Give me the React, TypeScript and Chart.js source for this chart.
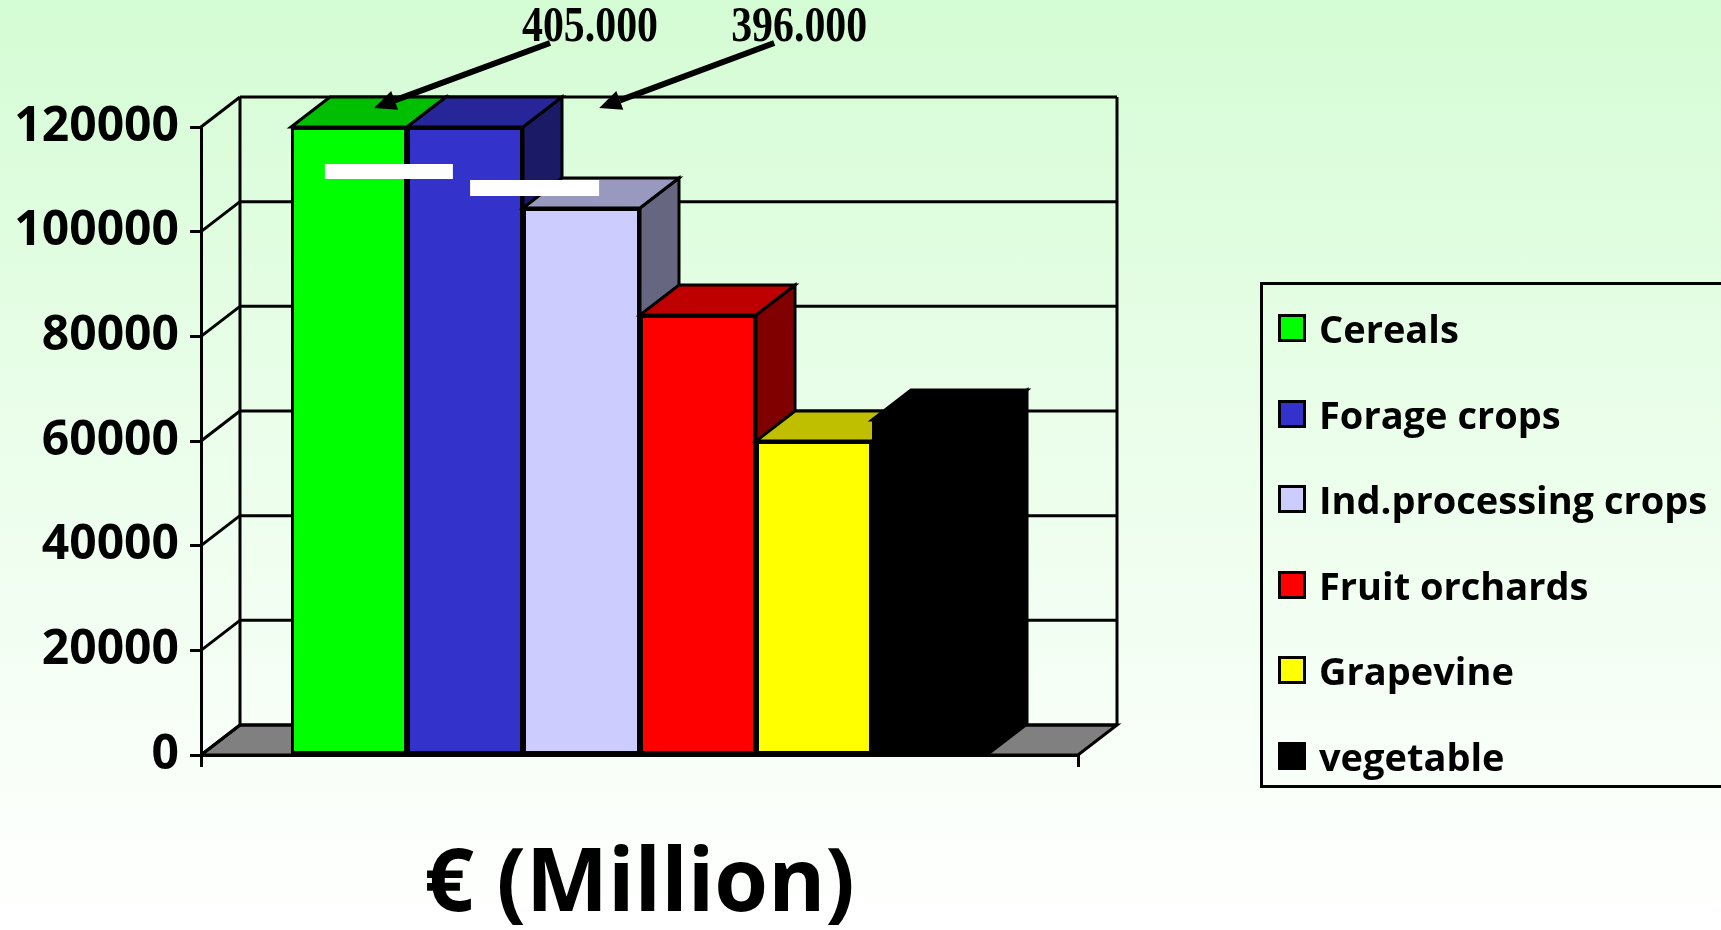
import React, { useEffect, useRef } from 'react';
import { Chart, registerables } from 'chart.js';

Chart.register(...registerables);

// ---- data ----
const categories = ['Cereals', 'Forage crops', 'Ind.processing crops', 'Fruit orchards', 'Grapevine', 'vegetable'];
const values = [405000, 396000, 104500, 84000, 60000, 64000];
const colors = ['#00ff00', '#3333cc', '#ccccff', '#ff0000', '#ffff00', '#000000'];
const yTickLabels = ['0', '20000', '40000', '60000', '80000', '100000', '120000'];
const breakLabels = ['405.000', '396.000'];
const axisTitle = '€ (Million)';
const yMax = 120000;
const yStep = 20000;

// ---- style constants ----
const W = 1721;
const H = 930;
const DX = 39;
const DY = 30;
const LINE = 3;
const COMIC = "'Comic Sans MS', 'Open Sans', sans-serif";

function shade(hex: string, f: number): string {
  const n = parseInt(hex.slice(1), 16);
  const r = Math.round(((n >> 16) & 255) * f);
  const g = Math.round(((n >> 8) & 255) * f);
  const b = Math.round((n & 255) * f);
  return `rgb(${r},${g},${b})`;
}

function poly(ctx: CanvasRenderingContext2D, pts: number[][], fill: string | null) {
  ctx.beginPath();
  ctx.moveTo(pts[0][0], pts[0][1]);
  for (let i = 1; i < pts.length; i++) ctx.lineTo(pts[i][0], pts[i][1]);
  ctx.closePath();
  if (fill) {
    ctx.fillStyle = fill;
    ctx.fill();
  }
  ctx.strokeStyle = '#000';
  ctx.lineWidth = LINE;
  ctx.stroke();
}

function line(ctx: CanvasRenderingContext2D, x1: number, y1: number, x2: number, y2: number) {
  ctx.beginPath();
  ctx.moveTo(x1, y1);
  ctx.lineTo(x2, y2);
  ctx.stroke();
}

function arrow(ctx: CanvasRenderingContext2D, x1: number, y1: number, x2: number, y2: number) {
  const ang = Math.atan2(y2 - y1, x2 - x1);
  const headLen = 22;
  const headW = 10;
  const bx = x2 - headLen * Math.cos(ang);
  const by = y2 - headLen * Math.sin(ang);
  ctx.strokeStyle = '#000';
  ctx.lineWidth = 6;
  ctx.lineCap = 'butt';
  line(ctx, x1, y1, bx, by);
  ctx.beginPath();
  ctx.moveTo(x2, y2);
  ctx.lineTo(bx + headW * Math.sin(ang), by - headW * Math.cos(ang));
  ctx.lineTo(bx - headW * Math.sin(ang), by + headW * Math.cos(ang));
  ctx.closePath();
  ctx.fillStyle = '#000';
  ctx.fill();
}

const box3d = {
  id: 'box3d',
  beforeDraw(chart: any) {
    const { ctx, chartArea: ca } = chart;
    const y = chart.scales.y;
    ctx.save();
    ctx.lineJoin = 'miter';
    // floor
    poly(ctx, [[ca.left, ca.bottom], [ca.right, ca.bottom], [ca.right + DX, ca.bottom - DY], [ca.left + DX, ca.bottom - DY]], '#808080');
    ctx.strokeStyle = '#000';
    ctx.lineWidth = LINE;
    // side wall diagonals + back wall grid lines
    y.ticks.forEach((t: any) => {
      const py = y.getPixelForValue(t.value);
      line(ctx, ca.left, py, ca.left + DX, py - DY);
      line(ctx, ca.left + DX, py - DY, ca.right + DX, py - DY);
    });
    // back wall verticals
    line(ctx, ca.left + DX, ca.top - DY, ca.left + DX, ca.bottom - DY);
    line(ctx, ca.right + DX, ca.top - DY, ca.right + DX, ca.bottom - DY);
    ctx.restore();
  },
  beforeDatasetsDraw(chart: any) {
    const { ctx, chartArea: ca } = chart;
    ctx.save();
    ctx.lineJoin = 'miter';
    chart.data.datasets.forEach((ds: any, i: number) => {
      const meta = chart.getDatasetMeta(i);
      if (!meta.visible) return;
      meta.data.forEach((el: any) => {
        const { x, y, base, width } = el.getProps(['x', 'y', 'base', 'width'], true);
        const left = Math.round(x - width / 2);
        const right = Math.round(x + width / 2);
        const top = Math.round(Math.max(y, ca.top));
        const bottom = Math.round(base);
        const color = ds.backgroundColor as string;
        // front face via the element itself (clamped to the axis maximum, pixel aligned)
        const saved = { x: el.x, y: el.y, width: el.width, base: el.base };
        el.x = (left + right) / 2;
        el.width = right - left;
        el.y = top;
        el.base = bottom;
        el.draw(ctx, ca);
        Object.assign(el, saved);
        // right side face
        poly(ctx, [[right, top], [right + DX, top - DY], [right + DX, bottom - DY], [right, bottom]], shade(color, 0.5));
        // top face
        poly(ctx, [[left, top], [right, top], [right + DX, top - DY], [left + DX, top - DY]], shade(color, 0.75));
      });
    });
    ctx.restore();
    return false;
  },
  afterDraw(chart: any) {
    const { ctx, chartArea: ca } = chart;
    const e0 = chart.getDatasetMeta(0).data[0];
    const e1 = chart.getDatasetMeta(1).data[0];
    if (!e0 || !e1) return;
    const l0 = e0.x - e0.width / 2;
    const l1 = e1.x - e1.width / 2;
    ctx.save();
    // axis-break marks
    ctx.fillStyle = '#ffffff';
    ctx.fillRect(l0 + 34, ca.top + 37, 128, 15);
    ctx.fillRect(l1 + 63, ca.top + 53, 129, 16);
    // labels for the off-scale values
    ctx.fillStyle = '#000';
    ctx.font = "bold 46px 'Liberation Serif', 'Times New Roman', serif";
    ctx.textAlign = 'center';
    ctx.textBaseline = 'middle';
    const labelPos = [e0.x + 241, e1.x + 334];
    breakLabels.forEach((t, i) => {
      ctx.save();
      ctx.translate(labelPos[i], ca.top - 99);
      ctx.scale(0.91, 1.1);
      ctx.fillText(t, 0, 0);
      ctx.restore();
    });
    // arrows
    arrow(ctx, e0.x + 201, ca.top - 84, e0.x + 25, ca.top - 19);
    arrow(ctx, e1.x + 309, ca.top - 84, e1.x + 134, ca.top - 19);
    ctx.restore();
  },
};

export default function App() {
  const ref = useRef<HTMLCanvasElement>(null);

  useEffect(() => {
    if (!ref.current) return;
    const chart = new Chart(ref.current, {
      type: 'bar',
      data: {
        labels: [''],
        datasets: categories.map((c, i) => ({
          label: c,
          data: [values[i]],
          backgroundColor: colors[i],
          borderColor: '#000000',
          borderWidth: LINE,
          borderSkipped: false,
          categoryPercentage: 0.795,
          barPercentage: 1,
        })),
      },
      options: {
        animation: false,
        responsive: false,
        devicePixelRatio: 1,
        events: [],
        layout: { padding: { left: 0, right: W - 1078, top: 127, bottom: 0 } },
        plugins: {
          legend: { display: false },
          tooltip: { enabled: false },
        },
        scales: {
          x: {
            grid: {
              display: true,
              drawOnChartArea: false,
              drawTicks: true,
              tickLength: 12,
              color: '#000',
              lineWidth: LINE,
              offset: true,
            },
            border: { display: true, color: '#000', width: LINE },
            ticks: { display: false },
            title: {
              display: true,
              text: axisTitle,
              color: '#000',
              font: { family: COMIC, size: 87, weight: 'bold', lineHeight: 1.0 },
              padding: { top: 76, bottom: 0 },
            },
          },
          y: {
            min: 0,
            max: yMax,
            afterFit: (s: any) => {
              s.width = 201;
            },
            ticks: {
              stepSize: yStep,
              color: '#000',
              padding: 11,
              font: { family: COMIC, size: 48, weight: 'bold' },
              callback: (_v: any, i: number) => yTickLabels[i],
            },
            grid: {
              display: true,
              drawOnChartArea: false,
              drawTicks: true,
              tickLength: 11,
              color: '#000',
              lineWidth: LINE,
            },
            border: { display: true, color: '#000', width: LINE },
          },
        },
      },
      plugins: [box3d],
    } as any);
    return () => chart.destroy();
  }, []);

  return (
    <div
      style={{
        position: 'fixed',
        left: 0,
        top: 0,
        width: W,
        height: H,
        overflow: 'hidden',
        background: 'linear-gradient(to bottom, #d4fcd4 0%, #ecfeec 50%, #ffffff 100%)',
      }}
    >
      <canvas ref={ref} width={W} height={H} style={{ position: 'absolute', left: 0, top: 0, width: W, height: H }} />
      <div
        style={{
          position: 'absolute',
          left: 1260,
          top: 282,
          width: 520,
          height: 506,
          border: '3px solid #000',
          boxSizing: 'border-box',
        }}
      >
        {categories.map((c, i) => (
          <div
            key={c}
            style={{
              position: 'absolute',
              left: 15,
              top: 43 + i * 85.6 - 25,
              height: 50,
              display: 'flex',
              alignItems: 'center',
              whiteSpace: 'nowrap',
            }}
          >
            <span
              style={{
                display: 'inline-block',
                width: 28,
                height: 28,
                boxSizing: 'border-box',
                border: '3px solid #000',
                background: colors[i],
                marginRight: 13,
              }}
            />
            <span style={{ fontFamily: COMIC, fontWeight: 700, fontSize: 38, lineHeight: '50px', color: '#000' }}>{c}</span>
          </div>
        ))}
      </div>
    </div>
  );
}
